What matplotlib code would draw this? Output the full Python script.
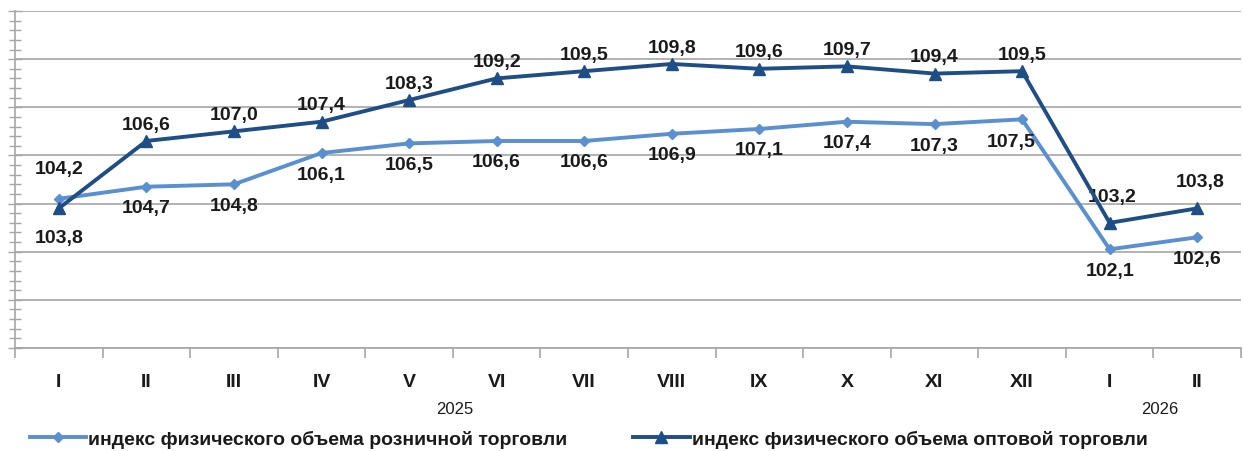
import matplotlib.pyplot as plt
from matplotlib.ticker import MultipleLocator, FixedLocator, NullFormatter

months = ['I', 'II', 'III', 'IV', 'V', 'VI', 'VII', 'VIII', 'IX', 'X', 'XI', 'XII', 'I', 'II']
retail = [104.2, 104.7, 104.8, 106.1, 106.5, 106.6, 106.6, 106.9, 107.1, 107.4, 107.3, 107.5, 102.1, 102.6]
wholesale = [103.8, 106.6, 107.0, 107.4, 108.3, 109.2, 109.5, 109.8, 109.6, 109.7, 109.4, 109.5, 103.2, 103.8]
retail_name = 'индекс физического объема розничной торговли'
wholesale_name = 'индекс физического объема оптовой торговли'

light = '#5a8fd0'
dark = '#1f4e87'
grid_c = '#a6a6a6'
txt = '#1a1a1a'

plt.rcParams['font.family'] = ['Liberation Sans', 'DejaVu Sans']

fig = plt.figure(figsize=(12.43, 4.52), dpi=100)
ax = fig.add_axes([15 / 1243, 1 - 349 / 452, 1226 / 1243, 337 / 452])

x = list(range(len(months)))
ax.plot(x, retail, color=light, lw=2.8, marker='D', ms=5, label=retail_name, zorder=3)
ax.plot(x, wholesale, color=dark, lw=2.8, marker='^', ms=8, label=wholesale_name, zorder=4)

ax.set_xlim(-0.5, 13.5)
ax.set_ylim(98, 112)

# data labels
lbl = dict(fontsize=14, fontweight='bold', color=txt, ha='center')
for i, v in enumerate(retail):
    s = f'{v:.1f}'.replace('.', ',')
    if i == 0:
        ax.annotate(s, (i, v), xytext=(0, 16), textcoords='offset points', va='bottom', **lbl)
    elif i == 11:
        ax.annotate(s, (i, v), xytext=(-8, -10), textcoords='offset points', va='top', **lbl)
    else:
        ax.annotate(s, (i, v), xytext=(0, -9), textcoords='offset points', va='top', **lbl)
for i, v in enumerate(wholesale):
    s = f'{v:.1f}'.replace('.', ',')
    if i == 0:
        ax.annotate(s, (i, v), xytext=(0, -15), textcoords='offset points', va='top', **lbl)
    elif i >= 12:
        ax.annotate(s, (i, v), xytext=(2, 13), textcoords='offset points', va='bottom', **lbl)
    else:
        ax.annotate(s, (i, v), xytext=(0, 6), textcoords='offset points', va='bottom', **lbl)

# y axis: grid, no labels
ax.yaxis.set_major_locator(MultipleLocator(2))
ax.yaxis.set_minor_locator(MultipleLocator(0.4))
ax.yaxis.set_major_formatter(NullFormatter())
ax.tick_params(axis='y', which='major', direction='inout', length=10, color=grid_c, width=1)
ax.tick_params(axis='y', which='minor', direction='inout', length=8, color=grid_c, width=1)
ax.grid(axis='y', which='major', color=grid_c, lw=1.2)

# x axis: ticks at boundaries, labels centred
ax.xaxis.set_major_locator(FixedLocator([i - 0.5 for i in range(len(months) + 1)]))
ax.xaxis.set_major_formatter(NullFormatter())
ax.xaxis.set_minor_locator(FixedLocator(x))
ax.set_xticklabels(months, minor=True, fontsize=14, fontweight='bold', color=txt)
ax.tick_params(axis='x', which='major', direction='out', length=7, color=grid_c, width=1.2)
ax.tick_params(axis='x', which='minor', length=0, pad=18)

for s in ['top', 'right']:
    ax.spines[s].set_visible(False)
for s in ['left', 'bottom']:
    ax.spines[s].set_color(grid_c)
    ax.spines[s].set_linewidth(1.2)
ax.set_axisbelow(True)

fig.text(455 / 1243, 1 - 410 / 452, '2025', fontsize=12, color=txt, ha='center', va='center')
fig.text(1160 / 1243, 1 - 410 / 452, '2026', fontsize=12, color=txt, ha='center', va='center')

leg = fig.legend(loc='center left', bbox_to_anchor=(12 / 1243, 1 - 440 / 452), ncol=2,
                 frameon=False, handlelength=2.9, handletextpad=0.1, columnspacing=3.4,
                 prop={'family': ['Liberation Sans Narrow', 'Liberation Sans'], 'weight': 'bold', 'size': 14})
for t in leg.get_texts():
    t.set_color(txt)

fig.savefig('out.png', dpi=100)
